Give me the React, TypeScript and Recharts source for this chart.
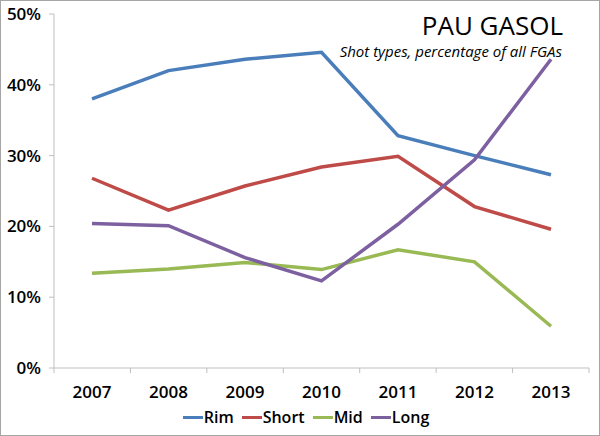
import React from "react";
import { LineChart, Line, XAxis, YAxis, Legend } from "recharts";

const years = ["2007", "2008", "2009", "2010", "2011", "2012", "2013"];
const rim = [38.0, 42.0, 43.6, 44.6, 32.8, 30.0, 27.3];
const short = [26.8, 22.3, 25.7, 28.4, 29.9, 22.8, 19.6];
const mid = [13.4, 14.0, 14.9, 13.9, 16.7, 15.0, 5.9];
const long = [20.4, 20.1, 15.6, 12.3, 20.3, 29.4, 43.6];
const yTicks = [0, 10, 20, 30, 40, 50];

const series = [
  { key: "Rim", color: "#4a7ebb" },
  { key: "Short", color: "#be4b48" },
  { key: "Mid", color: "#98b954" },
  { key: "Long", color: "#7d60a0" },
];

const data = years.map((y, i) => ({
  year: y,
  Rim: rim[i],
  Short: short[i],
  Mid: mid[i],
  Long: long[i],
}));

const FONT = "'Open Sans', sans-serif";

const LegendContent = () => (
  <div style={{ display: "flex", justifyContent: "center", alignItems: "center", height: 20, width: 600, fontFamily: FONT, fontWeight: 600, fontSize: 16, color: "#000" }}>
    {series.map((s, i) => (
      <div key={s.key} style={{ display: "flex", alignItems: "center", marginLeft: i === 0 ? 12 : 8 }}>
        <div style={{ width: 20, height: 3, background: s.color, marginRight: 1 }} />
        <span>{s.key}</span>
      </div>
    ))}
  </div>
);

export default function App() {
  return (
    <div style={{ position: "absolute", left: 0, top: 0, width: 600, height: 436, background: "#fff" }}>
      <LineChart width={600} height={436} data={data} margin={{ top: 14, right: 11, bottom: 9, left: 0 }}>
        <XAxis
          dataKey="year"
          height={39}
          padding={{ left: 38, right: 38 }}
          axisLine={{ stroke: "#bfbfbf" }}
          tickLine={false}
          tick={{ fill: "#000", fontSize: 17, fontWeight: 600, fontFamily: FONT }}
          tickMargin={12}
        />
        <YAxis
          width={54}
          domain={[0, 50]}
          ticks={yTicks}
          tickFormatter={(v: number) => `${v}%`}
          axisLine={{ stroke: "#bfbfbf" }}
          tickLine={{ stroke: "#bfbfbf" }}
          tickSize={5}
          tickMargin={8}
          tick={{ fill: "#000", fontSize: 17, fontWeight: 600, fontFamily: FONT }}
        />
        <Legend verticalAlign="bottom" height={20} wrapperStyle={{ left: 0, width: 600 }} content={<LegendContent />} />
        {series.map((s) => (
          <Line
            key={s.key}
            dataKey={s.key}
            stroke={s.color}
            strokeWidth={3.5}
            dot={false}
            activeDot={false}
            isAnimationActive={false}
            type="linear"
          />
        ))}
        {years.concat([""]).map((_, i) => (
          <line key={i} x1={54 + i * (535 / 7)} x2={54 + i * (535 / 7)} y1={368} y2={373} stroke="#bfbfbf" strokeWidth={1} />
        ))}
        <text x={563} y={35} textAnchor="end" fontFamily={FONT} fontSize={26} fill="#000">PAU GASOL</text>
        <text x={562} y={57} textAnchor="end" fontFamily={FONT} fontSize={15} fontWeight={500} fontStyle="italic" fill="#000">Shot types, percentage of all FGAs</text>
      </LineChart>
      <div style={{ position: "absolute", left: 0, top: 0, width: 600, height: 436, border: "1px solid #a6a6a6", boxSizing: "border-box", pointerEvents: "none" }} />
    </div>
  );
}
